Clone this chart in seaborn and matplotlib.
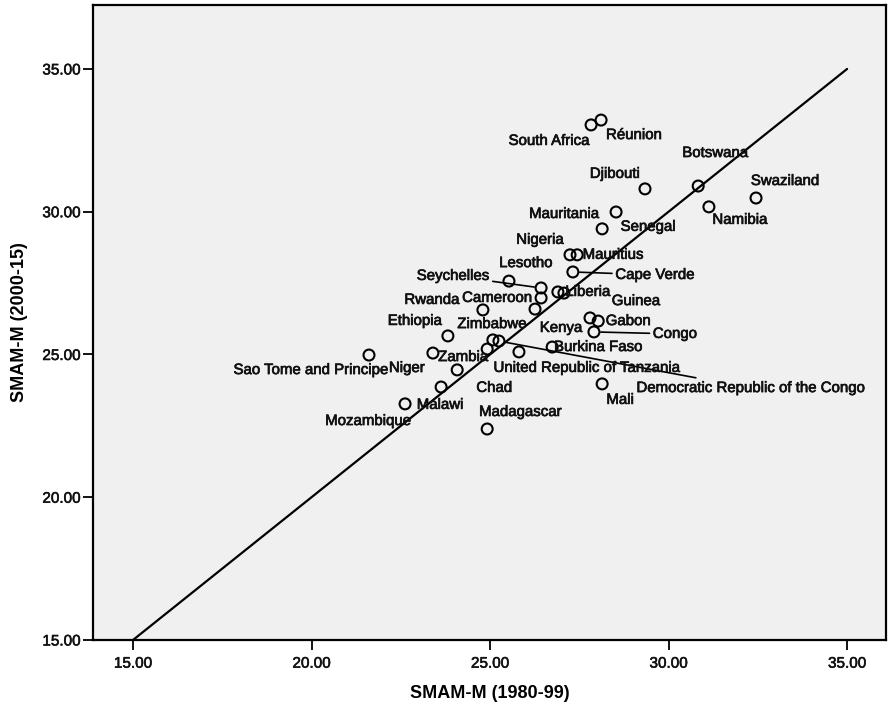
import matplotlib
matplotlib.use("Agg")
import matplotlib.pyplot as plt
import matplotlib.patheffects as pe
import seaborn as sns
import pandas as pd

# Singulate mean age at marriage, men: 1980-99 vs 2000-15
countries = [
    "South Africa", "Réunion", "Djibouti", "Botswana", "Swaziland", "Namibia",
    "Mauritania", "Senegal", "Nigeria", "Mauritius", "Cape Verde", "Lesotho",
    "Seychelles", "Cameroon", "Zimbabwe", "Kenya", "Gabon", "Congo", "Rwanda",
    "Liberia", "Guinea", "Ethiopia", "Burkina Faso", "",
    "Democratic Republic of the Congo", "Zambia", "United Republic of Tanzania",
    "Sao Tome and Principe", "Niger", "Chad", "Mozambique", "Malawi",
    "Madagascar", "Mali",
]
smam_1980_99 = [
    27.83, 28.11, 29.34, 30.83, 32.45, 31.13,
    28.53, 28.14, 27.24, 27.44, 27.32, 25.53,
    26.43, 26.43, 26.26, 27.80, 28.03, 27.91, 24.80,
    26.90, 27.07, 23.82, 26.74, 25.08,
    25.25, 24.92, 25.81,
    21.61, 23.40, 24.08, 23.63, 22.62,
    24.92, 28.14,
]
smam_2000_15 = [
    33.04, 33.21, 30.80, 30.90, 30.48, 30.17,
    29.99, 29.40, 28.49, 28.49, 27.89, 27.57,
    27.33, 26.98, 26.59, 26.28, 26.17, 25.79, 26.56,
    27.19, 27.15, 25.65, 25.26, 25.51,
    25.47, 25.19, 25.09,
    24.98, 25.05, 24.46, 23.86, 23.27,
    22.39, 23.97,
]

# Label placement: pixel offset of each label's centre from its point
label_dx = [
    -42, 33, -30, 17, 29, 31,
    -52, 46, -30, 36, 82, 17,
    -88, -44, -43, -29, 30, 81, -51,
    30, 72, -33, 46, 0,
    252, -24, 68,
    -58, -26, 37, -73, 35,
    33, 18,
]
label_dy = [
    -16, -15, 15, 33, 17, -13,
    -2, 2, 15, 0, -3, 18,
    12, 0, -15, -10, 0, -2, 10,
    0, -8, 15, 0, 0,
    -47, -8, -16,
    -15, -15, -18, -34, -1,
    17, -16,
]
leader_line = {"Seychelles", "Cape Verde", "Congo", "Democratic Republic of the Congo"}

ref_x = [15, 35]
ref_y = [15, 35]
x_ticks = [15, 20, 25, 30, 35]
y_ticks = [15, 20, 25, 30, 35]

df = pd.DataFrame({"country": countries, "x": smam_1980_99, "y": smam_2000_15})

sns.set_style("white")
plt.rcParams["font.family"] = ["Liberation Sans", "DejaVu Sans"]

fig = plt.figure(figsize=(8.89, 7.10), dpi=100)
ax = fig.add_axes([93 / 889, 70 / 710, (886 - 93) / 889, (705 - 70) / 710])
ax.set_facecolor("#f0f0f0")

sns.lineplot(x=ref_x, y=ref_y, ax=ax, color="black", linewidth=1.6, zorder=2)
sns.scatterplot(data=df, x="x", y="y", ax=ax, marker="o", s=62,
                facecolor="none", edgecolor="black", linewidth=1.5, zorder=3)

thicken = [pe.withStroke(linewidth=0.5, foreground="#111111")]
for name, xv, yv, dx, dy in zip(countries, smam_1980_99, smam_2000_15, label_dx, label_dy):
    if not name:
        continue
    arrow = None
    if name in leader_line:
        arrow = dict(arrowstyle="-", color="black", lw=1.2, shrinkA=0, shrinkB=5)
    ax.annotate(name, xy=(xv, yv), xytext=(dx, dy), textcoords="offset pixels",
                ha="center", va="center", fontsize=10.8, color="#111111",
                arrowprops=arrow, zorder=4, path_effects=thicken)

ax.set_xlim(13.88, 36.09)
ax.set_ylim(15, 37.24)
ax.set_xticks(x_ticks)
ax.set_yticks(y_ticks)
ax.set_xticklabels([f"{v:.2f}" for v in x_ticks], fontsize=11)
ax.set_yticklabels([f"{v:.2f}" for v in y_ticks], fontsize=11)
ax.tick_params(direction="out", length=7, width=1.3, color="black", pad=2,
               bottom=True, left=True)
ax.tick_params(axis="x", pad=5)
for lbl in ax.get_xticklabels() + ax.get_yticklabels():
    lbl.set_color("#111111")
    lbl.set_path_effects([pe.withStroke(linewidth=0.4, foreground="#111111")])

for side in ["left", "right", "top", "bottom"]:
    ax.spines[side].set_visible(True)
    ax.spines[side].set_color("black")
    ax.spines[side].set_linewidth(1.6)

ax.set_xlabel("SMAM-M (1980-99)", fontsize=13, fontweight="bold", labelpad=10,
              color="black")
ax.set_ylabel("SMAM-M (2000-15)", fontsize=13, fontweight="bold", labelpad=10,
              color="black")

fig.savefig("out.png", dpi=100, facecolor="white")
